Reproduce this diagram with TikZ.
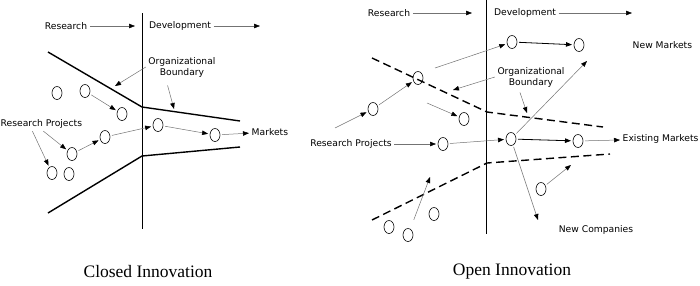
\documentclass[tikz,border=0pt]{standalone}
\usepackage{fontspec}
\usepackage{tikz}
\usetikzlibrary{positioning, arrows.meta, shapes.geometric}
\newfontfamily\labelfont{DejaVu Sans}
\newfontfamily\captionfont{Liberation Serif}

\begin{document}
\begin{tikzpicture}[
    x=1pt, y=-1pt,
    project/.style={
        ellipse,
        draw=black,
        line width=0.6pt,
        inner sep=0pt,
        outer sep=2pt,
        minimum width=10pt,
        minimum height=13pt
    },
    txt/.style={
        align=center,
        inner sep=2.5pt,
        font=\labelfont\fontsize{9.2}{11}\selectfont
    },
    caption/.style={
        inner sep=0pt,
        font=\captionfont\fontsize{17.5}{20}\selectfont
    },
    arrow/.style={
        draw=black!55,
        line width=0.5pt,
        -{Triangle[length=6pt,width=4.5pt,black]}
    },
    darkarrow/.style={
        draw=black,
        line width=0.8pt,
        -{Triangle[length=6pt,width=4.5pt,black]}
    },
    bound/.style={
        line width=1.4pt,
        line join=round
    },
    dashbound/.style={
        line width=1.4pt,
        dash pattern=on 8pt off 4.5pt
    },
    divider/.style={
        line width=0.6pt
    }
]
\useasboundingbox (0,0) rectangle (700,285);

% Closed innovation
\coordinate (lvtop) at (142,13);
\coordinate (lvbot) at (142,229);
\draw [divider] (lvtop) -- (lvbot);

\node (lres) [txt] at (66,26) {Research};
\coordinate (lresend) at (135,26);
\node (ldev) [txt] at (180,26) {Development};
\coordinate (ldevend) at (260,26);

\coordinate (ltopa) at (48,52);
\coordinate (ltopb) at (142,107);
\coordinate (ltopc) at (240,121);
\coordinate (lbota) at (48,213);
\coordinate (lbotb) at (142,156);
\coordinate (lbotc) at (240,147);
\draw [bound] (ltopa) -- (ltopb) -- (ltopc);
\draw [bound] (lbota) -- (lbotb) -- (lbotc);

\node (cA) [project] at (57,93) {};
\node (cB) [project] at (85,91) {};
\node (cC) [project] at (122,114) {};
\node (cD) [project] at (105,137) {};
\node (cE) [project] at (72,154) {};
\node (cF) [project] at (52,173) {};
\node (cG) [project] at (69,174) {};
\node (cH) [project] at (158,125) {};
\node (cI) [project] at (215,135) {};

\node (lrp) [txt, anchor=west] at (-2,124) {Research Projects};
\node (lmkt) [txt, anchor=west] at (249,132) {Markets};
\node (lob) [txt] at (182,67) {Organizational\\Boundary};
\coordinate (lobt1) at (115,86);
\coordinate (lobt2) at (174,109);

\draw [arrow] (lres) -- (lresend);
\draw [arrow] (ldev) -- (ldevend);
\draw [arrow] (cB) -- (cC);
\draw [arrow] (cE) -- (cD);
\draw [arrow] (cD) -- (cH);
\draw [arrow] (cH) -- (cI);
\draw [arrow] (cI) -- (lmkt);
\draw [arrow] ([xshift=2pt]lrp.south) -- (cE);
\draw [arrow] ([xshift=-9pt]lrp.south) -- (cF);
\draw [arrow] (lob.west) -- (lobt1);
\draw [arrow, shorten <=6pt] ([xshift=-16pt]lob.south) -- (lobt2);

\node (lcap) [caption] at (148,272) {Closed Innovation};

% Open innovation
\coordinate (rvtop) at (486,0);
\coordinate (rvbot) at (486,234);
\draw [divider] (rvtop) -- (rvbot);

\node (rres) [txt] at (389,13) {Research};
\coordinate (rresend) at (472,13);
\node (rdev) [txt] at (525,13) {Development};
\coordinate (rdevend) at (632,13);

\coordinate (rtopa) at (372,58);
\coordinate (rtopb) at (487,112);
\coordinate (rtopc) at (603,127);
\coordinate (rbota) at (372,220);
\coordinate (rbotb) at (487,163);
\coordinate (rbotc) at (610,154);
\draw [dashbound] (rtopa) -- (rtopb) -- (rtopc);
\draw [dashbound] (rbota) -- (rbotb) -- (rbotc);

\node (rA) [project] at (512,42) {};
\node (rB) [project] at (579,45) {};
\node (rC) [project] at (418,78) {};
\node (rD) [project] at (373,109) {};
\node (rE) [project] at (464,119) {};
\node (rF) [project] at (443,144) {};
\node (rG) [project] at (511,139) {};
\node (rH) [project] at (578,141) {};
\node (rI) [project] at (541,189) {};
\node (rJ) [project] at (434,214) {};
\node (rK) [project] at (389,227) {};
\node (rL) [project] at (408,235) {};

\node (rnm) [txt, anchor=west] at (630,45) {New Markets};
\node (rem) [txt, anchor=west] at (620,139) {Existing Markets};
\node (rnc) [txt] at (596,230) {New Companies};
\node (rrp) [txt] at (351,144) {Research Projects};
\node (rob) [txt] at (531,77) {Organizational\\Boundary};

\coordinate (rAfrom) at (435,68);
\coordinate (rDfrom) at (335,128);
\coordinate (rEfrom) at (427,103);
\coordinate (rGnew) at (587,61);
\coordinate (rGco) at (538,220);
\coordinate (rIout) at (571,165);
\coordinate (rLout) at (430,177);
\coordinate (robt1) at (453,90);
\coordinate (robt2) at (527,113);

\draw [arrow] (rres) -- (rresend);
\draw [arrow] (rdev) -- (rdevend);
\draw [arrow] (rAfrom) -- (rA);
\draw [darkarrow] (rA) -- (rB);
\draw [arrow] (rDfrom) -- (rD);
\draw [arrow] (rD) -- (rC);
\draw [arrow] (rEfrom) -- (rE);
\draw [arrow] (rrp) -- (rF);
\draw [arrow] (rF) -- (rG);
\draw [darkarrow] (rG) -- (rH);
\draw [arrow] (rH) -- (rem);
\draw [arrow] (rG) -- (rGnew);
\draw [arrow] (rG) -- (rGco);
\draw [arrow] (rI) -- (rIout);
\draw [arrow, shorten <=8pt] (rL) -- (rLout);
\draw [arrow] (rob.west) -- (robt1);
\draw [arrow, shorten <=3pt] ([xshift=-12pt]rob.south) -- (robt2);

\node (rcap) [caption] at (512,272) {Open Innovation};

\end{tikzpicture}
\end{document}
